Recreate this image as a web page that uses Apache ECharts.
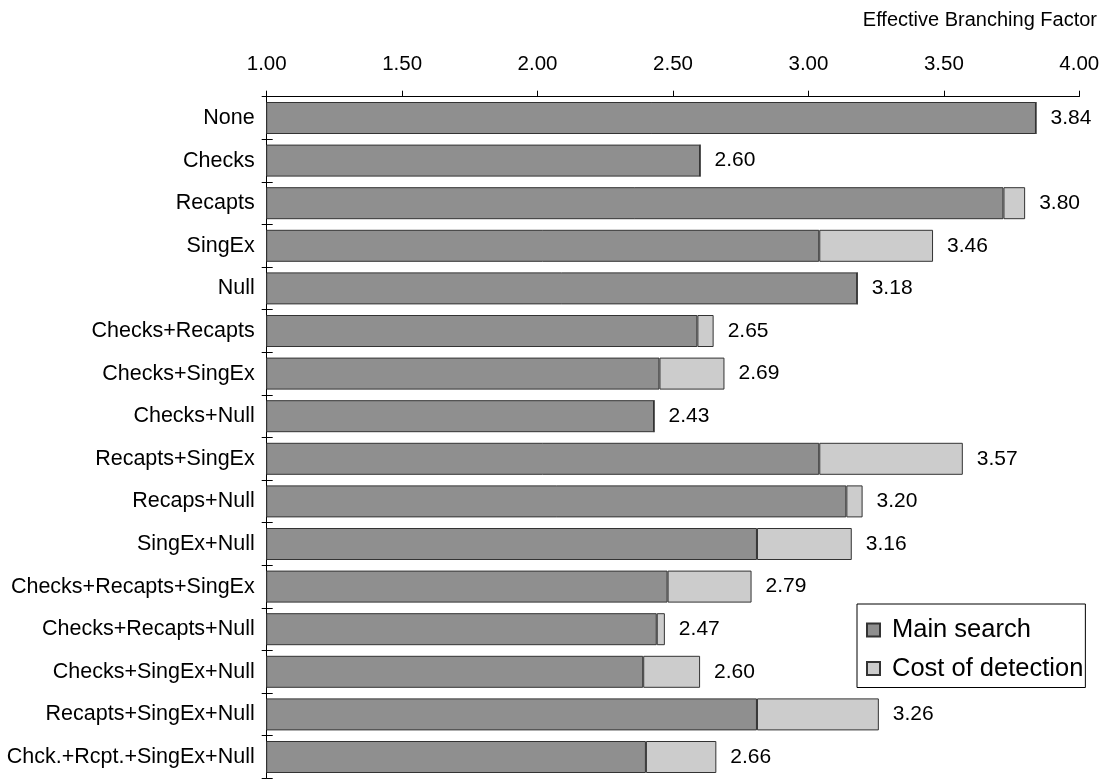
<!DOCTYPE html>
<html>
<head>
<meta charset="utf-8">
<script src="https://cdn.jsdelivr.net/npm/echarts@6/dist/echarts.min.js"></script>
<style>
html,body{margin:0;padding:0;background:#fff;}
#chart{width:1110px;height:780px;}
</style>
</head>
<body>
<div id="chart"></div>
<script>
var categories = ["None","Checks","Recapts","SingEx","Null","Checks+Recapts","Checks+SingEx","Checks+Null","Recapts+SingEx","Recaps+Null","SingEx+Null","Checks+Recapts+SingEx","Checks+Recapts+Null","Checks+SingEx+Null","Recapts+SingEx+Null","Chck.+Rcpt.+SingEx+Null"];
var mainSearch = [3.84, 2.60, 3.72, 3.04, 3.18, 2.59, 2.45, 2.43, 3.04, 3.14, 2.81, 2.48, 2.44, 2.39, 2.81, 2.40];
var costOfDetection = [0, 0, 0.08, 0.42, 0, 0.06, 0.24, 0, 0.53, 0.06, 0.35, 0.31, 0.03, 0.21, 0.45, 0.26];
var xTicks = [1.0, 1.5, 2.0, 2.5, 3.0, 3.5, 4.0];

var FONT = "'Liberation Sans', Arial, sans-serif";
var chart = echarts.init(document.getElementById('chart'), null, {renderer: 'canvas'});
chart.setOption({
  animation: false,
  backgroundColor: '#fff',
  textStyle: {fontFamily: FONT, color: '#000'},
  title: {
    text: 'Effective Branching Factor',
    right: 8, top: 5,
    textStyle: {fontFamily: FONT, fontSize: 20, fontWeight: 'normal', color: '#000'}
  },
  grid: {left: 266.7, right: 1110 - 1079.3, top: 96.7, bottom: 1.7, containLabel: false},
  legend: {
    orient: 'vertical',
    left: 857, top: 604,
    padding: [13, 2, 6, 9],
    itemGap: 12.5,
    itemWidth: 13, itemHeight: 13,
    borderColor: '#000', borderWidth: 1,
    backgroundColor: '#fff',
    icon: 'rect',
    textStyle: {fontFamily: FONT, fontSize: 25.5, color: '#000', padding: [0, 0, 0, 7]},
    data: ['Main search', 'Cost of detection']
  },
  xAxis: {
    type: 'value',
    position: 'top',
    min: xTicks[0], max: xTicks[xTicks.length - 1], interval: 0.5,
    axisLine: {show: true, lineStyle: {color: '#000', width: 1}},
    axisTick: {show: true, length: 6, lineStyle: {color: '#000'}},
    splitLine: {show: false},
    axisLabel: {fontFamily: FONT, fontSize: 20.5, color: '#000', margin: 22,
      formatter: function (v) { return v.toFixed(2); }}
  },
  yAxis: [{
    type: 'category',
    inverse: true,
    data: categories,
    axisLine: {show: true, lineStyle: {color: '#000', width: 1}},
    axisTick: {show: true, length: 5, lineStyle: {color: '#000'}},
    axisLabel: {fontFamily: FONT, fontSize: 21.5, color: '#000', margin: 12}
  }, {
    type: 'category',
    inverse: true,
    position: 'left',
    data: categories,
    axisLine: {show: false},
    axisTick: {show: true, inside: true, length: 6, lineStyle: {color: '#000'}},
    axisLabel: {show: false}
  }],
  series: [{
    name: 'Main search',
    type: 'bar',
    stack: 'total',
    barWidth: 32,
    data: mainSearch,
    itemStyle: {color: '#8f8f8f', borderColor: '#333', borderWidth: 1}
  }, {
    name: 'Cost of detection',
    type: 'bar',
    stack: 'total',
    barWidth: 32,
    data: costOfDetection,
    itemStyle: {color: '#cccccc', borderColor: '#333', borderWidth: 1},
    label: {
      show: true, position: 'right', distance: 14,
      fontFamily: FONT, fontSize: 21, color: '#000',
      formatter: function (p) { return (mainSearch[p.dataIndex] + costOfDetection[p.dataIndex]).toFixed(2); }
    }
  }]
});
</script>
</body>
</html>
